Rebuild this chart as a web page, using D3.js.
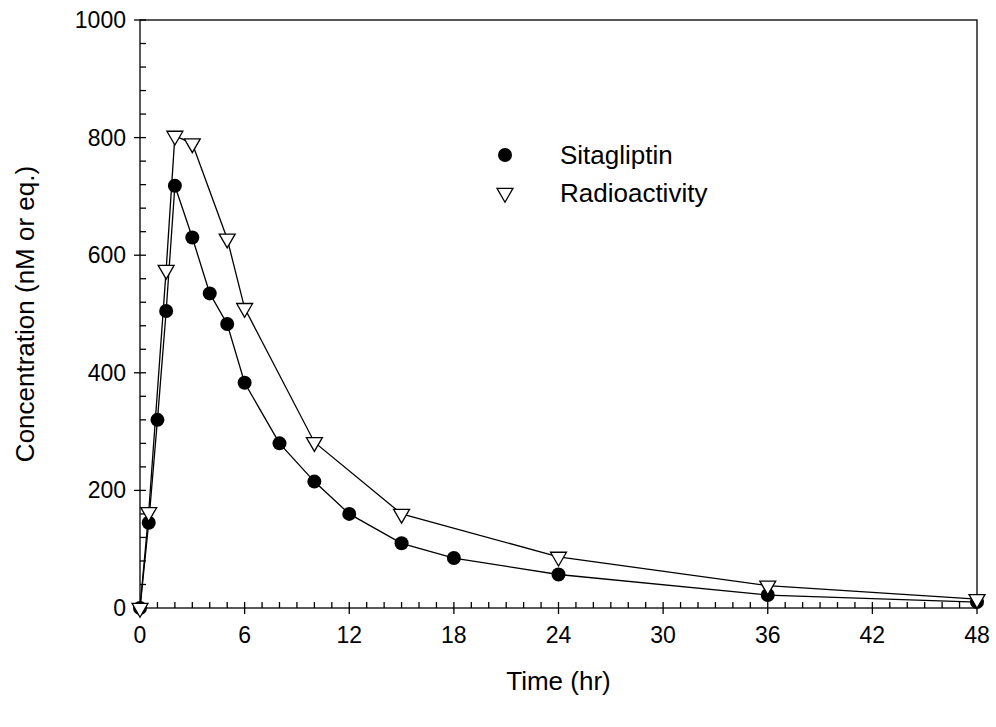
<!DOCTYPE html>
<html><head><meta charset="utf-8">
<script src="https://cdn.jsdelivr.net/npm/d3@7"></script>
<style>body{margin:0;background:#fff}svg{font-family:Arial,"Liberation Sans",sans-serif}</style>
</head><body><svg id="c" width="996" height="727"></svg>
<script>
const sitaTime = [0,0.5,1,1.5,2,3,4,5,6,8,10,12,15,18,24,36,48];
const sitaConc = [0,145,320,505,718,630,535,483,383,280,215,160,110,85,57,22,10];
const radioTime = [0,0.5,1.5,2,3,5,6,10,15,24,36,48];
const radioConc = [0,163,575,803,790,628,510,282,160,87,38,15];
const xTicks = [0,6,12,18,24,30,36,42,48];
const yTicks = [0,200,400,600,800,1000];
const svg = d3.select("#c");
const L=140,R=977,T=20,B=608;
const x = d3.scaleLinear().domain([0,48]).range([L,R]);
const y = d3.scaleLinear().domain([0,1000]).range([B,T]);
const g = svg.append("g").attr("stroke","#000").attr("stroke-width",1.3);
g.append("rect").attr("x",L).attr("y",T).attr("width",R-L).attr("height",B-T).attr("fill","none");
for(let t=0;t<=48;t++){const maj=t%6===0;g.append("line").attr("x1",x(t)).attr("x2",x(t)).attr("y1",B-6).attr("y2",maj?B+6:B);}
for(let v=0;v<=1000;v+=40){const maj=v%200===0;g.append("line").attr("y1",y(v)).attr("y2",y(v)).attr("x1",maj?L-6:L).attr("x2",L+6);}
svg.selectAll(".xt").data(xTicks).join("text").attr("x",d=>x(d)).attr("y",B+35).attr("text-anchor","middle").attr("font-size",23).text(d=>d);
svg.selectAll(".yt").data(yTicks).join("text").attr("x",L-14).attr("y",d=>y(d)+8).attr("text-anchor","end").attr("font-size",23).text(d=>d);
svg.append("text").attr("x",(L+R)/2).attr("y",690).attr("text-anchor","middle").attr("font-size",26).text("Time (hr)");
svg.append("text").attr("transform",`translate(34,${(T+B)/2}) rotate(-90)`).attr("text-anchor","middle").attr("font-size",26).text("Concentration (nM or eq.)");
const line = d3.line().x(d=>x(d[0])).y(d=>y(d[1]));
const sd = sitaTime.map((t,i)=>[t,sitaConc[i]]), rd = radioTime.map((t,i)=>[t,radioConc[i]]);
svg.append("path").attr("d",line(rd)).attr("fill","none").attr("stroke","#000").attr("stroke-width",1.3);
svg.append("path").attr("d",line(sd)).attr("fill","none").attr("stroke","#000").attr("stroke-width",1.3);
const tri = d3.symbol().type(d3.symbolTriangle).size(110);
svg.selectAll(".s").data(sd).join("circle").attr("cx",d=>x(d[0])).attr("cy",d=>y(d[1])).attr("r",7).attr("fill","#000");
svg.selectAll(".r").data(rd).join("path").attr("d",tri).attr("transform",d=>`translate(${x(d[0])},${y(d[1])}) rotate(180)`).attr("fill","#fff").attr("stroke","#000").attr("stroke-width",1.3);
svg.append("circle").attr("cx",505).attr("cy",155).attr("r",7).attr("fill","#000");
svg.append("path").attr("d",tri).attr("transform","translate(505,193) rotate(180)").attr("fill","#fff").attr("stroke","#000").attr("stroke-width",1.3);
svg.append("text").attr("x",560).attr("y",164).attr("font-size",26).text("Sitagliptin");
svg.append("text").attr("x",560).attr("y",202).attr("font-size",26).text("Radioactivity");
</script></body></html>
